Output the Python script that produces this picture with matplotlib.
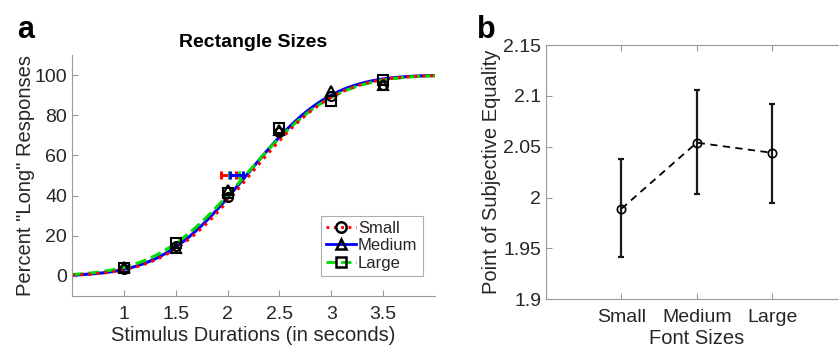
import matplotlib

matplotlib.use("Agg")
import matplotlib.pyplot as plt
import numpy as np
from math import erf, sqrt
from matplotlib.lines import Line2D

plt.rcParams["font.family"] = ["Liberation Sans", "DejaVu Sans"]

# ---- panel a data ----
durations = [1.0, 1.5, 2.0, 2.5, 3.0, 3.5]
small_pct = [3.5, 15.0, 39.5, 71.5, 89.5, 95.0]
medium_pct = [4.5, 14.0, 43.0, 72.5, 92.0, 95.0]
large_pct = [4.0, 16.5, 41.5, 73.5, 87.0, 97.5]

# cumulative normal fit parameters (mu, sigma)
small_fit = (2.21, 0.645)
medium_fit = (2.18, 0.64)
large_fit = (2.17, 0.68)

# PSE error bars at 50 %
pse_center = {"Small": 2.01, "Large": 2.06, "Medium": 2.085}
pse_halfwidth = {"Small": 0.07, "Large": 0.05, "Medium": 0.065}

# ---- panel b data ----
font_sizes = ["Small", "Medium", "Large"]
font_pse = [1.989, 2.054, 2.044]
font_err_lo = [1.941, 2.003, 1.995]
font_err_hi = [2.038, 2.106, 2.092]

TXT = "#262626"
AXC = "#9a9a9a"
COLORS = {"Small": "#ff0000", "Medium": "#0000ff", "Large": "#00dd00"}
STYLES = {"Small": ":", "Medium": "-", "Large": "--"}
MARKERS = {"Small": "o", "Medium": "^", "Large": "s"}


def norm_cdf(x, mu, sigma):
    return np.array([0.5 * (1 + erf((v - mu) / (sigma * sqrt(2)))) for v in x]) * 100


def _style_ax(ax):
    for s in ax.spines.values():
        s.set_color(AXC)
        s.set_linewidth(0.8)
    ax.tick_params(direction="in", length=4, width=0.8, color=AXC, labelcolor=TXT, labelsize=14)
    ax.tick_params(axis="x", pad=7)


fig = plt.figure(figsize=(8.39, 3.54), dpi=100, facecolor="white")

# ---------------- panel a ----------------
ax = fig.add_axes([0.0858, 0.1638, 0.4327, 0.681])
_style_ax(ax)
ax.spines["top"].set_visible(False)
ax.spines["right"].set_visible(False)

xs = np.linspace(0.5, 4.0, 300)
fits = {"Small": small_fit, "Medium": medium_fit, "Large": large_fit}
pts = {"Small": small_pct, "Medium": medium_pct, "Large": large_pct}

# curves: blue first, then green dashed and red dotted on top
for name in ["Medium", "Large", "Small"]:
    mu, sd = fits[name]
    ax.plot(xs, norm_cdf(xs, mu, sd), color=COLORS[name], linestyle=STYLES[name],
            linewidth=2.2, zorder=2)

for name in ["Small", "Large", "Medium"]:
    ax.errorbar(pse_center[name], 50, xerr=pse_halfwidth[name], fmt="none",
                ecolor=COLORS[name], elinewidth=2.2, capsize=3, capthick=2.2, zorder=3)

for name in ["Small", "Medium", "Large"]:
    ax.plot(durations, pts[name], linestyle="none", marker=MARKERS[name], markersize=6.5,
            markerfacecolor="none", markeredgecolor="black", markeredgewidth=1.5, zorder=4)

ax.set_xlim(0.5, 4.0)
ax.set_ylim(-10, 110)
ax.set_xticks([1, 1.5, 2, 2.5, 3, 3.5])
ax.set_xticklabels(["1", "1.5", "2", "2.5", "3", "3.5"])
ax.set_yticks([0, 20, 40, 60, 80, 100])
ax.set_xlabel("Stimulus Durations (in seconds)", fontsize=14.5, color=TXT, labelpad=2)
ax.set_ylabel('Percent "Long" Responses', fontsize=14.5, color=TXT, labelpad=0)
ax.set_title("Rectangle Sizes", fontsize=14, fontweight="bold", color="black", pad=6)

handles = [
    Line2D([], [], color=COLORS[n], linestyle=STYLES[n], linewidth=2, marker=MARKERS[n],
           markersize=7.5, markerfacecolor="none", markeredgecolor="black", markeredgewidth=1.8)
    for n in ["Small", "Medium", "Large"]
]
leg = ax.legend(handles, ["Small", "Medium", "Large"], loc="lower right",
                bbox_to_anchor=(0.975, 0.07), fontsize=12, frameon=True, fancybox=False,
                handlelength=1.8, handletextpad=0.15, borderpad=0.3, labelspacing=0.15,
                borderaxespad=0.2)
leg.get_frame().set_edgecolor(AXC)
leg.get_frame().set_linewidth(0.8)
for t in leg.get_texts():
    t.set_color(TXT)

fig.text(0.02, 0.915, "a", fontsize=22, fontweight="bold", ha="left", va="center")

# ---------------- panel b ----------------
bx = fig.add_axes([0.651, 0.155, 0.359, 0.7175])
_style_ax(bx)
bx.tick_params(top=True, right=True)

xpos = np.arange(1, len(font_sizes) + 1)
yerr = [np.array(font_pse) - np.array(font_err_lo), np.array(font_err_hi) - np.array(font_pse)]
bx.errorbar(xpos, font_pse, yerr=yerr, fmt="none", ecolor="#1a1a1a", elinewidth=1.6,
            capsize=2, capthick=1.6, zorder=2)
bx.plot(xpos, font_pse, color="black", linestyle=(0, (4, 3)), linewidth=1.3, marker="o",
        markersize=6, markerfacecolor="none", markeredgecolor="black", markeredgewidth=1.2,
        zorder=3)

bx.set_xlim(0, 4)
bx.set_ylim(1.9, 2.15)
bx.set_xticks(xpos)
bx.set_xticklabels(font_sizes)
bx.set_yticks([1.9, 1.95, 2.0, 2.05, 2.1, 2.15])
bx.set_yticklabels(["1.9", "1.95", "2", "2.05", "2.1", "2.15"])
bx.set_xlabel("Font Sizes", fontsize=14.5, color=TXT, labelpad=2)
bx.set_ylabel("Point of Subjective Equality", fontsize=14.5, color=TXT, labelpad=2)

fig.text(0.568, 0.915, "b", fontsize=22, fontweight="bold", ha="left", va="center")

fig.savefig("out.png", dpi=100, facecolor="white")
